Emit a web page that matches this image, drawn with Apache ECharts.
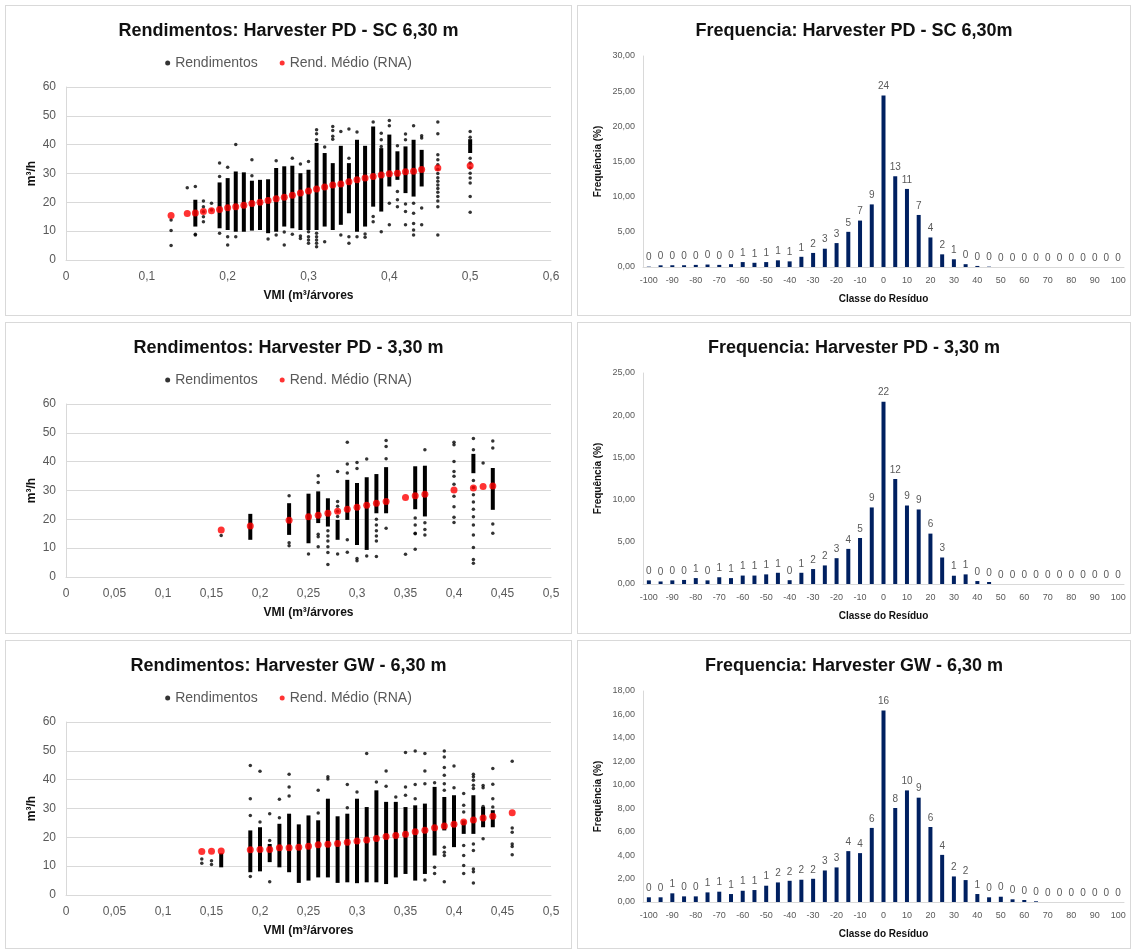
<!DOCTYPE html>
<html>
<head>
<meta charset="utf-8">
<script src="https://cdn.jsdelivr.net/npm/echarts@6/dist/echarts.min.js"></script>
<style>
  body { margin: 0; background: #fff; }
  .panel { position: absolute; box-sizing: border-box; border: 1px solid #d9d9d9; background: #fff; }
</style>
</head>
<body>
<div id="pdScScatter" class="panel" style="left:5px;top:5px;width:567px;height:311px"></div>
<div id="pdScHist" class="panel" style="left:577px;top:5px;width:554px;height:311px"></div>
<div id="pd33Scatter" class="panel" style="left:5px;top:322px;width:567px;height:312px"></div>
<div id="pd33Hist" class="panel" style="left:577px;top:322px;width:554px;height:312px"></div>
<div id="gw63Scatter" class="panel" style="left:5px;top:640px;width:567px;height:309px"></div>
<div id="gw63Hist" class="panel" style="left:577px;top:640px;width:554px;height:309px"></div>
<script>
// classes do residuo (eixo x dos histogramas)
const classes = ['-100', '-95', '-90', '-85', '-80', '-75', '-70', '-65', '-60', '-55', '-50', '-45', '-40', '-35',
  '-30', '-25', '-20', '-15', '-10', '-5', '0', '5', '10', '15', '20', '25', '30', '35', '40', '45', '50', '55',
  '60', '65', '70', '75', '80', '85', '90', '95', '100'];

// frequencia (%) por classe
const freqPdSc = [0.05, 0.24, 0.25, 0.25, 0.3, 0.35, 0.3, 0.4, 0.7, 0.6, 0.7, 0.95, 0.8, 1.45, 2.0, 2.6, 3.4, 5.0,
  6.6, 8.9, 24.4, 12.9, 11.1, 7.4, 4.2, 1.8, 1.1, 0.4, 0.15, 0.05, 0, 0, 0, 0, 0, 0, 0, 0, 0, 0, 0];
const freqPd33 = [0.43, 0.3, 0.43, 0.48, 0.7, 0.43, 0.8, 0.7, 1.0, 1.0, 1.14, 1.33, 0.45, 1.33, 1.77, 2.2, 3.06, 4.16,
  5.45, 9.07, 21.6, 12.44, 9.3, 8.83, 5.97, 3.14, 0.98, 1.14, 0.35, 0.24, 0, 0, 0, 0, 0, 0, 0, 0, 0, 0, 0];
const freqGw63 = [0.4, 0.4, 0.74, 0.48, 0.48, 0.82, 0.88, 0.68, 0.96, 1.02, 1.39, 1.67, 1.81, 1.9, 1.98, 2.69, 2.95,
  4.34, 4.17, 6.32, 16.33, 8.02, 9.52, 8.9, 6.4, 4.02, 2.18, 1.87, 0.68, 0.4, 0.45, 0.23, 0.17, 0.06, 0, 0, 0, 0, 0, 0, 0];

// faixas densas de pontos: [VMI, min, max]
const bandsPdSc = [[0.16, 11.6, 20.9], [0.19, 11.0, 26.9], [0.20, 10.4, 28.4], [0.21, 9.8, 30.7], [0.22, 9.8, 30.4],
  [0.23, 10.2, 27.5], [0.24, 10.4, 27.8], [0.25, 9.3, 28.0], [0.26, 9.8, 31.9], [0.27, 11.6, 32.5], [0.28, 11.0, 32.7],
  [0.29, 10.4, 30.1], [0.30, 10.4, 31.3], [0.31, 10.4, 40.6], [0.32, 11.6, 37.1], [0.33, 10.4, 33.6], [0.34, 12.2, 39.6],
  [0.35, 16.2, 33.6], [0.36, 9.8, 41.7], [0.37, 11.6, 39.6], [0.38, 18.5, 46.3], [0.39, 16.8, 38.8], [0.40, 25.5, 43.5],
  [0.41, 27.8, 37.7], [0.42, 23.2, 39.4], [0.43, 22.0, 41.7], [0.44, 25.5, 38.2], [0.50, 37.1, 41.9]];
const pointsPdSc = [[0.13, 13.9], [0.13, 10.2], [0.13, 5.0], [0.15, 25.1], [0.16, 25.5], [0.16, 8.9], [0.16, 8.7],
  [0.17, 20.5], [0.17, 18.5], [0.17, 16.7], [0.17, 15.0], [0.17, 13.3], [0.18, 19.7], [0.18, 17.3],
  [0.19, 33.6], [0.19, 29.0], [0.19, 9.3], [0.20, 32.2], [0.20, 8.1], [0.20, 5.2], [0.21, 40.1], [0.21, 8.1],
  [0.23, 34.8], [0.23, 29.2], [0.25, 7.3], [0.26, 34.4], [0.26, 8.7], [0.27, 9.7], [0.27, 5.2],
  [0.28, 35.3], [0.28, 8.9], [0.29, 33.3], [0.29, 8.3], [0.29, 7.5],
  [0.30, 34.2], [0.30, 9.8], [0.30, 8.1], [0.30, 6.9], [0.30, 5.8],
  [0.31, 45.2], [0.31, 43.8], [0.31, 41.7], [0.31, 9.3], [0.31, 8.1], [0.31, 6.9], [0.31, 5.8], [0.31, 4.6],
  [0.32, 39.2], [0.32, 6.3], [0.33, 46.3], [0.33, 44.9], [0.33, 42.9], [0.33, 41.9], [0.34, 44.6], [0.34, 8.7],
  [0.35, 45.4], [0.35, 35.3], [0.35, 8.1], [0.35, 5.8], [0.36, 44.4], [0.36, 8.1], [0.37, 9.0], [0.37, 7.9],
  [0.38, 47.9], [0.38, 15.1], [0.38, 13.3], [0.39, 44.0], [0.39, 41.7], [0.39, 39.4], [0.39, 9.8],
  [0.40, 48.4], [0.40, 46.6], [0.40, 19.7], [0.40, 12.2], [0.41, 39.6], [0.41, 23.8], [0.41, 20.9], [0.41, 18.5],
  [0.42, 43.7], [0.42, 41.7], [0.42, 19.4], [0.42, 16.8], [0.42, 12.2],
  [0.43, 46.6], [0.43, 19.7], [0.43, 16.2], [0.43, 12.7], [0.43, 10.4], [0.43, 8.7],
  [0.44, 43.1], [0.44, 42.3], [0.44, 18.0], [0.44, 12.2],
  [0.46, 47.9], [0.46, 43.8], [0.46, 36.5], [0.46, 34.8], [0.46, 33.0], [0.46, 31.5], [0.46, 30.0], [0.46, 28.5],
  [0.46, 27.3], [0.46, 26.0], [0.46, 24.8], [0.46, 23.5], [0.46, 22.0], [0.46, 20.5], [0.46, 18.5], [0.46, 8.7],
  [0.50, 44.6], [0.50, 42.6], [0.50, 35.3], [0.50, 33.6], [0.50, 31.9], [0.50, 30.1], [0.50, 28.4], [0.50, 26.7],
  [0.50, 22.0], [0.50, 16.6]];
const meanPdSc = [[0.13, 15.4], [0.15, 16.1], [0.16, 16.3], [0.17, 16.8], [0.18, 17.1], [0.19, 17.5], [0.20, 18.1],
  [0.21, 18.5], [0.22, 19.0], [0.23, 19.6], [0.24, 20.0], [0.25, 20.6], [0.26, 21.2], [0.27, 21.8], [0.28, 22.5],
  [0.29, 23.2], [0.30, 23.9], [0.31, 24.6], [0.32, 25.3], [0.33, 26.0], [0.34, 26.4], [0.35, 27.1], [0.36, 27.8],
  [0.37, 28.4], [0.38, 29.0], [0.39, 29.5], [0.40, 29.9], [0.41, 30.1], [0.42, 30.6], [0.43, 30.8], [0.44, 31.4],
  [0.46, 31.9], [0.50, 32.7]];

const bandsPd33 = [[0.19, 12.9, 21.9], [0.23, 14.6, 25.6], [0.25, 11.7, 28.9], [0.26, 18.7, 29.7], [0.27, 17.5, 27.3],
  [0.28, 12.9, 19.8], [0.29, 19.8, 33.7], [0.30, 11.1, 32.6], [0.31, 9.4, 34.6], [0.32, 22.1, 35.7],
  [0.33, 22.1, 38.1], [0.36, 23.5, 38.4], [0.37, 21.0, 38.6], [0.42, 36.0, 42.7], [0.44, 23.3, 37.8]];
const pointsPd33 = [[0.16, 14.4], [0.23, 28.2], [0.23, 11.9], [0.23, 10.8], [0.25, 8.0],
  [0.26, 35.1], [0.26, 32.8], [0.26, 14.8], [0.26, 14.0], [0.26, 10.5],
  [0.27, 16.0], [0.27, 14.2], [0.27, 12.5], [0.27, 10.5], [0.27, 8.5], [0.27, 4.3],
  [0.28, 36.6], [0.28, 26.2], [0.28, 24.5], [0.28, 22.8], [0.28, 21.0], [0.28, 8.0],
  [0.29, 46.7], [0.29, 39.2], [0.29, 36.1], [0.29, 12.9], [0.29, 8.6],
  [0.30, 39.7], [0.30, 37.6], [0.30, 6.4], [0.30, 5.6], [0.31, 40.9], [0.31, 7.3],
  [0.32, 20.0], [0.32, 18.0], [0.32, 16.0], [0.32, 14.2], [0.32, 12.5], [0.32, 7.1],
  [0.33, 47.3], [0.33, 45.3], [0.33, 41.0], [0.33, 16.9], [0.35, 7.9],
  [0.36, 20.5], [0.36, 18.0], [0.36, 15.2], [0.36, 15.0], [0.36, 9.6],
  [0.37, 44.1], [0.37, 18.8], [0.37, 16.5], [0.37, 14.6],
  [0.40, 46.7], [0.40, 45.9], [0.40, 40.1], [0.40, 36.6], [0.40, 34.9], [0.40, 32.2], [0.40, 28.0], [0.40, 24.4],
  [0.40, 20.7], [0.40, 18.9],
  [0.42, 48.0], [0.42, 44.1], [0.42, 33.5], [0.42, 31.0], [0.42, 28.5], [0.42, 26.0], [0.42, 23.5], [0.42, 20.9],
  [0.42, 18.0], [0.42, 14.6], [0.42, 10.2], [0.42, 6.1], [0.42, 4.8], [0.43, 39.5],
  [0.44, 47.2], [0.44, 44.7], [0.44, 18.4], [0.44, 15.2]];
const meanPd33 = [[0.16, 16.3], [0.19, 17.7], [0.23, 19.7], [0.25, 20.9], [0.26, 21.4], [0.27, 22.1], [0.28, 22.8],
  [0.29, 23.5], [0.30, 24.2], [0.31, 24.9], [0.32, 25.6], [0.33, 26.2], [0.35, 27.6], [0.36, 28.2], [0.37, 28.7],
  [0.40, 30.2], [0.42, 30.9], [0.43, 31.4], [0.44, 31.6]];

const bandsGw63 = [[0.16, 9.6, 14.5], [0.19, 7.9, 22.4], [0.20, 8.2, 23.5], [0.21, 11.4, 17.7], [0.22, 9.6, 24.7],
  [0.23, 7.9, 28.2], [0.24, 4.2, 24.5], [0.25, 5.0, 27.6], [0.26, 6.1, 25.9], [0.27, 6.1, 33.4], [0.28, 4.2, 27.3],
  [0.29, 4.4, 28.2], [0.30, 4.1, 33.4], [0.31, 4.4, 30.5], [0.32, 4.4, 36.3], [0.33, 3.8, 32.3], [0.34, 6.1, 32.3],
  [0.35, 7.3, 30.5], [0.36, 5.0, 31.1], [0.37, 7.3, 31.7], [0.38, 13.7, 37.5], [0.39, 22.4, 34.0], [0.40, 16.6, 34.6],
  [0.41, 21.2, 25.9], [0.42, 21.2, 34.6], [0.43, 23.5, 30.5], [0.44, 23.5, 29.4]];
const pointsGw63 = [[0.14, 12.5], [0.14, 11.0], [0.15, 11.9], [0.15, 10.6],
  [0.19, 44.9], [0.19, 33.4], [0.19, 27.6], [0.19, 6.4], [0.20, 42.9], [0.20, 25.3],
  [0.21, 28.2], [0.21, 18.9], [0.21, 4.6], [0.22, 33.2], [0.22, 26.8], [0.23, 41.9], [0.23, 37.5], [0.23, 34.3],
  [0.26, 36.3], [0.26, 28.4], [0.27, 41.0], [0.27, 40.2], [0.29, 38.3], [0.29, 30.3], [0.30, 35.7], [0.31, 49.1],
  [0.32, 39.2], [0.33, 43.0], [0.33, 37.7], [0.34, 34.0], [0.35, 49.4], [0.35, 37.5], [0.35, 34.6],
  [0.36, 49.9], [0.36, 38.3], [0.36, 33.4], [0.37, 49.1], [0.37, 43.0], [0.37, 38.6], [0.37, 5.2],
  [0.38, 38.9], [0.38, 9.6], [0.38, 7.5],
  [0.39, 49.9], [0.39, 47.9], [0.39, 44.2], [0.39, 41.5], [0.39, 38.6], [0.39, 36.3], [0.39, 16.6], [0.39, 14.8],
  [0.39, 13.7], [0.39, 4.6], [0.40, 44.7], [0.40, 37.2],
  [0.41, 35.2], [0.41, 31.1], [0.41, 28.8], [0.41, 17.2], [0.41, 13.7], [0.41, 10.2], [0.41, 7.5],
  [0.42, 41.9], [0.42, 41.0], [0.42, 39.8], [0.42, 38.1], [0.42, 36.9], [0.42, 17.7], [0.42, 15.4], [0.42, 9.0],
  [0.42, 8.1], [0.42, 4.2], [0.43, 38.0], [0.43, 37.2], [0.43, 30.7], [0.43, 19.5],
  [0.44, 43.9], [0.44, 38.4], [0.44, 33.4], [0.44, 30.5],
  [0.46, 46.4], [0.46, 23.2], [0.46, 21.8], [0.46, 17.7], [0.46, 16.8], [0.46, 14.0]];
const meanGw63 = [[0.14, 15.1], [0.15, 15.2], [0.16, 15.3], [0.19, 15.7], [0.20, 15.8], [0.21, 15.8], [0.22, 16.4],
  [0.23, 16.4], [0.24, 16.6], [0.25, 16.9], [0.26, 17.4], [0.27, 17.6], [0.28, 17.9], [0.29, 18.3], [0.30, 18.7],
  [0.31, 19.1], [0.32, 19.6], [0.33, 20.3], [0.34, 20.6], [0.35, 21.1], [0.36, 21.9], [0.37, 22.5], [0.38, 23.3],
  [0.39, 23.9], [0.40, 24.5], [0.41, 25.3], [0.42, 26.0], [0.43, 26.7], [0.44, 27.3], [0.46, 28.5]];

const FONT = "'Liberation Sans', Arial, sans-serif";
const GREY = '#595959';
const LINE = '#d9d9d9';

function comma(v, digits) {
  return (digits == null ? String(Math.round(v * 100) / 100) : v.toFixed(digits)).replace('.', ',');
}

function scatterOption(title, xMax, xInterval, bands, points, means) {
  return {
    animation: false,
    textStyle: { fontFamily: FONT },
    title: {
      text: title, left: 'center', top: 16, padding: 0,
      textStyle: { fontSize: 18, fontWeight: 'bold', color: '#111', fontFamily: FONT },
    },
    legend: {
      data: ['Rendimentos', 'Rend. Médio (RNA)'],
      top: 50, left: 'center', padding: 0, itemGap: 22,
      icon: 'circle', itemWidth: 5, itemHeight: 5,
      textStyle: { fontSize: 14, color: GREY, fontFamily: FONT },
    },
    grid: { left: 60, top: 81, width: 485, height: 173 },
    xAxis: {
      type: 'value', min: 0, max: xMax, interval: xInterval,
      name: 'VMI (m³/árvores', nameLocation: 'middle', nameGap: 30,
      nameTextStyle: { fontSize: 12, fontWeight: 'bold', color: '#111', fontFamily: FONT },
      axisLine: { lineStyle: { color: LINE } },
      axisTick: { show: false },
      splitLine: { show: false },
      axisLabel: { color: GREY, fontSize: 12, margin: 11, formatter: (v) => comma(v) },
    },
    yAxis: {
      type: 'value', min: 0, max: 60, interval: 10,
      name: 'm³/h', nameLocation: 'middle', nameGap: 28, nameMoveOverlap: false,
      nameTextStyle: { fontSize: 12, fontWeight: 'bold', color: '#111', fontFamily: FONT },
      axisLine: { show: true, lineStyle: { color: LINE } },
      axisTick: { show: false },
      splitLine: { lineStyle: { color: LINE } },
      axisLabel: { color: GREY, fontSize: 12, margin: 10 },
    },
    series: [
      {
        name: 'Rendimentos', type: 'scatter', data: points,
        symbol: 'circle', symbolSize: 3.5, itemStyle: { color: '#000' }, z: 2,
      },
      {
        name: 'faixa', type: 'custom', data: bands, z: 2,
        encode: { x: 0, y: [1, 2] },
        renderItem: (params, api) => {
          const lo = api.coord([api.value(0), api.value(1)]);
          const hi = api.coord([api.value(0), api.value(2)]);
          return {
            type: 'rect',
            shape: { x: lo[0] - 2, y: hi[1], width: 4, height: lo[1] - hi[1] },
            style: { fill: '#000' },
          };
        },
      },
      {
        name: 'Rend. Médio (RNA)', type: 'scatter', data: means,
        symbol: 'circle', symbolSize: 7, itemStyle: { color: '#ff0000' }, z: 5,
      },
    ],
  };
}

function histOption(title, yMax, yInterval, values) {
  return {
    animation: false,
    textStyle: { fontFamily: FONT },
    title: {
      text: title, left: 'center', top: 16, padding: 0,
      textStyle: { fontSize: 18, fontWeight: 'bold', color: '#111', fontFamily: FONT },
    },
    grid: { left: 65, top: 50, width: 481, height: 211 },
    xAxis: {
      type: 'category', data: classes,
      name: 'Classe do Resíduo', nameLocation: 'middle', nameGap: 27,
      nameTextStyle: { fontSize: 10, fontWeight: 'bold', color: '#111', fontFamily: FONT },
      axisLine: { lineStyle: { color: LINE } },
      axisTick: { show: false },
      axisLabel: { interval: 1, color: GREY, fontSize: 9, margin: 9 },
    },
    yAxis: {
      type: 'value', min: 0, max: yMax, interval: yInterval,
      name: 'Frequência (%)', nameLocation: 'middle', nameGap: 40, nameMoveOverlap: false,
      nameTextStyle: { fontSize: 10, fontWeight: 'bold', color: '#111', fontFamily: FONT },
      axisLine: { show: true, lineStyle: { color: LINE } },
      axisTick: { show: false },
      splitLine: { show: false },
      axisLabel: { color: GREY, fontSize: 9, margin: 8, formatter: (v) => comma(v, 2) },
    },
    series: [{
      type: 'bar', data: values, barWidth: 4,
      itemStyle: { color: '#002060' },
      label: {
        show: true, position: 'top', distance: 4, color: GREY, fontSize: 10,
        formatter: (p) => String(Math.round(p.value)),
      },
    }],
  };
}

echarts.init(document.getElementById('pdScScatter')).setOption(
  scatterOption('Rendimentos: Harvester PD - SC 6,30 m', 0.6, 0.1, bandsPdSc, pointsPdSc, meanPdSc));
echarts.init(document.getElementById('pd33Scatter')).setOption(
  scatterOption('Rendimentos: Harvester PD - 3,30 m', 0.5, 0.05, bandsPd33, pointsPd33, meanPd33));
echarts.init(document.getElementById('gw63Scatter')).setOption(
  scatterOption('Rendimentos: Harvester GW - 6,30 m', 0.5, 0.05, bandsGw63, pointsGw63, meanGw63));
echarts.init(document.getElementById('pdScHist')).setOption(
  histOption('Frequencia: Harvester PD - SC 6,30m', 30, 5, freqPdSc));
echarts.init(document.getElementById('pd33Hist')).setOption(
  histOption('Frequencia: Harvester PD - 3,30 m', 25, 5, freqPd33));
echarts.init(document.getElementById('gw63Hist')).setOption(
  histOption('Frequencia: Harvester GW - 6,30 m', 18, 2, freqGw63));
</script>
</body>
</html>
